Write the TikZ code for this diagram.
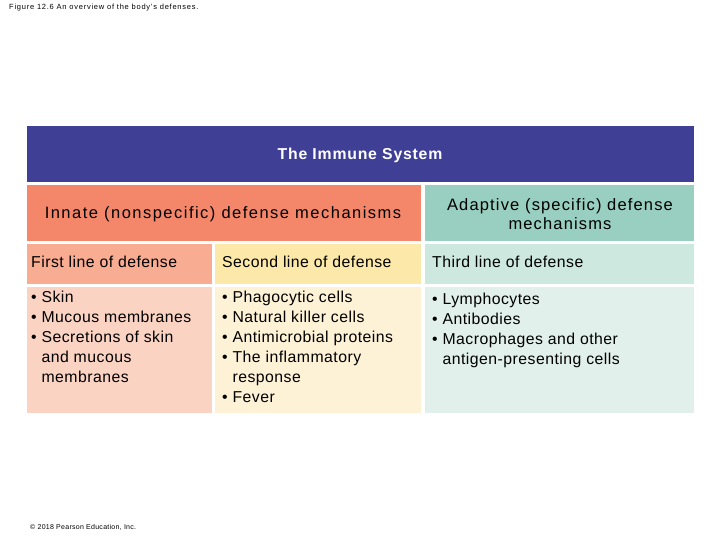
\documentclass[tikz,border=0pt]{standalone}
\usepackage{fontspec}
\setmainfont{Liberation Sans}
\definecolor{titlebg}{HTML}{3F3F96}
\definecolor{innh}{HTML}{F4876A}
\definecolor{adh}{HTML}{98CFC0}
\definecolor{r2a}{HTML}{F8AC92}
\definecolor{r2b}{HTML}{FCE8A8}
\definecolor{r2c}{HTML}{CDE8DF}
\definecolor{r3a}{HTML}{FBD3C3}
\definecolor{r3b}{HTML}{FEF2D6}
\definecolor{r3c}{HTML}{E2F0EC}
\begin{document}
\begin{tikzpicture}[x=1pt,y=-1pt,
  txt/.style={font=\fontsize{15.8}{20}\selectfont\addfontfeatures{LetterSpace=3}, anchor=north west, align=left, inner sep=0pt}]
\useasboundingbox (0,0) rectangle (720,540);
\fill[white] (0,0) rectangle (720,540);
\fill[titlebg] (27,126) rectangle (694,182);
\fill[innh] (27,185) rectangle (421,241);
\fill[adh] (425,185) rectangle (694,241);
\fill[r2a] (27,244) rectangle (212,284);
\fill[r2b] (215,244) rectangle (421,284);
\fill[r2c] (425,244) rectangle (694,284);
\fill[r3a] (27,287) rectangle (212,413);
\fill[r3b] (215,287) rectangle (421,413);
\fill[r3c] (425,287) rectangle (694,413);
\node[anchor=north west, inner sep=0pt, font=\fontsize{7.5}{9}\selectfont\addfontfeatures{LetterSpace=10}] (cap) at (9,4) {Figure 12.6 An overview of the body’s defenses.};
\node[anchor=north west, inner sep=0pt, font=\fontsize{7}{9}\selectfont\addfontfeatures{LetterSpace=4}] (copy) at (30,524) {© 2018 Pearson Education, Inc.};
\node[inner sep=0pt, white, font=\fontsize{15.8}{20}\selectfont\bfseries\addfontfeatures{LetterSpace=5}] (title) at (360,155) {The Immune System};
\node[inner sep=0pt, font=\fontsize{16.5}{20}\selectfont\addfontfeatures{LetterSpace=9}] (inn) at (223,214) {Innate (nonspecific) defense mechanisms};
\node[inner sep=0pt, align=center, font=\fontsize{16.5}{19}\selectfont\addfontfeatures{LetterSpace=7}] (ad) at (560,214) {Adaptive (specific) defense\\mechanisms};
\node[txt] (f1) at (31,256) {First line of defense};
\node[txt] (f2) at (222,256) {Second line of defense};
\node[txt] (f3) at (432,256) {Third line of defense};
\node[txt] (l1) at (31,291) {• Skin\\• Mucous membranes\\• Secretions of skin\\\hphantom{• }and mucous\\\hphantom{• }membranes};
\node[txt] (l2) at (222,291) {• Phagocytic cells\\• Natural killer cells\\• Antimicrobial proteins\\• The inflammatory\\\hphantom{• }response\\• Fever};
\node[txt] (l3) at (432,293) {• Lymphocytes\\• Antibodies\\• Macrophages and other\\\hphantom{• }antigen-presenting cells};
\end{tikzpicture}
\end{document}
